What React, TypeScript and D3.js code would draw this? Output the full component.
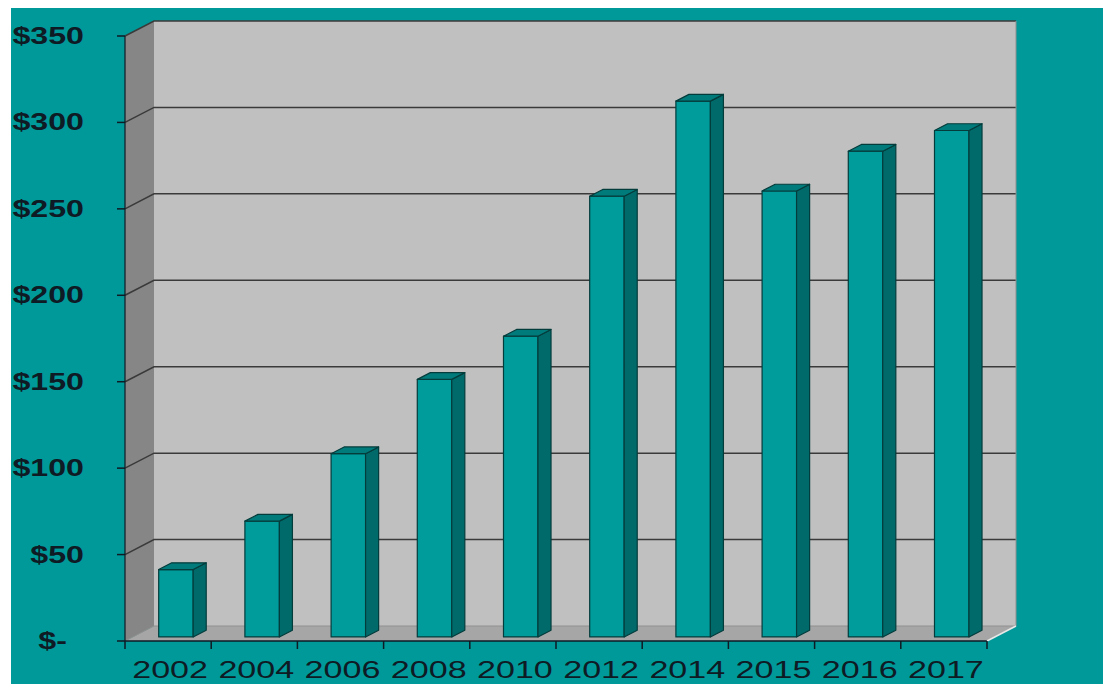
import React from "react";
import * as d3 from "d3";

const categories = ["2002", "2004", "2006", "2008", "2010", "2012", "2014", "2015", "2016", "2017"];
const values = [39, 67, 106, 149, 174, 255, 310, 258, 281, 293];
const yTicks = [0, 50, 100, 150, 200, 250, 300, 350];

const W = 1103;
const H = 684;
const X0 = 125;
const X1 = 987;
const Y0 = 641;
const Y1 = 36;
const DX = 29;
const DY = -15;
const Z0 = 0.27;
const Z1 = 0.72;
const SX = 1.4;

export default function App() {
  const x = d3.scaleBand<string>().domain(categories).range([X0, X1]).paddingInner(0.6).paddingOuter(0.3);
  const y = d3.scaleLinear().domain([0, 350]).range([Y0, Y1]);
  const step = x.step();
  const pts = (arr: [number, number][]) => arr.map((p) => p.join(",")).join(" ");
  const gridColor = "#3a3a3a";
  const ink = "#0e1a24";

  return (
    <svg width={W} height={H} style={{ position: "absolute", left: 0, top: 0 }} fontFamily="Liberation Sans, Arial, sans-serif">
      <rect x={0} y={0} width={W} height={H} fill="#ffffff" />
      <rect x={11} y={8} width={W - 11} height={H - 8} fill="#009999" />
      {/* side wall */}
      <polygon points={pts([[X0, y(0)], [X0, y(350)], [X0 + DX, y(350) + DY], [X0 + DX, y(0) + DY]])} fill="#868686" />
      {/* back wall */}
      <rect x={X0 + DX} y={y(350) + DY} width={X1 - X0} height={y(0) - y(350)} fill="#c0c0c0" />
      {/* floor */}
      <polygon points={pts([[X0, y(0)], [X1, y(0)], [X1 + DX, y(0) + DY], [X0 + DX, y(0) + DY]])} fill="#a6a6a6" />
      {/* gridlines */}
      {yTicks.map((t) => (
        <g key={t}>
          {t > 0 && (
            <polyline
              points={pts([[X0, y(t)], [X0 + DX, y(t) + DY], [X1 + DX, y(t) + DY]])}
              fill="none"
              stroke={gridColor}
              strokeWidth={1.5}
            />
          )}
          <line x1={X0 - 8} x2={X0} y1={y(t)} y2={y(t)} stroke={ink} strokeWidth={1.5} />
        </g>
      ))}
      <polyline points={pts([[X0, y(0)], [X0 + DX, y(0) + DY], [X1 + DX, y(0) + DY], [X1 + DX, y(350) + DY]])} fill="none" stroke="#909090" strokeWidth={1} />
      {/* axes */}
      <line x1={X0} x2={X0} y1={y(0)} y2={y(350)} stroke={ink} strokeWidth={1.2} />
      <line x1={X0} x2={X1} y1={y(0)} y2={y(0)} stroke={ink} strokeWidth={1.5} />
      <line x1={X1} x2={X1 + DX} y1={y(0)} y2={y(0) + DY} stroke="#e8e8e8" strokeWidth={1.5} />
      {d3.range(categories.length + 1).map((i) => (
        <line key={i} x1={X0 + i * step} x2={X0 + i * step} y1={y(0)} y2={y(0) + 8} stroke={ink} strokeWidth={1.5} />
      ))}
      {/* bars */}
      {categories.map((c, i) => {
        const v = values[i];
        const bx = (x(c) as number) + Z0 * DX;
        const bw = x.bandwidth();
        const by = y(v) + Z0 * DY;
        const bb = y(0) + Z0 * DY;
        const ddx = (Z1 - Z0) * DX;
        const ddy = (Z1 - Z0) * DY;
        return (
          <g key={c} stroke="#043c3c" strokeWidth={1.2} strokeLinejoin="round">
            <rect x={bx} y={by} width={bw} height={bb - by} fill="#009c9c" />
            <polygon points={pts([[bx + bw, by], [bx + bw + ddx, by + ddy], [bx + bw + ddx, bb + ddy], [bx + bw, bb]])} fill="#006a6a" />
            <polygon points={pts([[bx, by], [bx + ddx, by + ddy], [bx + bw + ddx, by + ddy], [bx + bw, by]])} fill="#007b7b" />
          </g>
        );
      })}
      {/* y labels */}
      {yTicks.map((t) => (
        <text
          key={t}
          transform={`translate(${t === 0 ? 67 : 84},${y(t) + 8}) scale(${SX},1)`}
          textAnchor="end"
          fontSize={23}
          fontWeight="bold"
          fill={ink}
        >
          {t === 0 ? "$-" : `$${t}`}
        </text>
      ))}
      {/* x labels */}
      {categories.map((c) => (
        <text
          key={c}
          transform={`translate(${(x(c) as number) + x.bandwidth() / 2 + 2},${678}) scale(1.42,1)`}
          textAnchor="middle"
          fontSize={24}
          fill={ink}
        >
          {c}
        </text>
      ))}
    </svg>
  );
}
